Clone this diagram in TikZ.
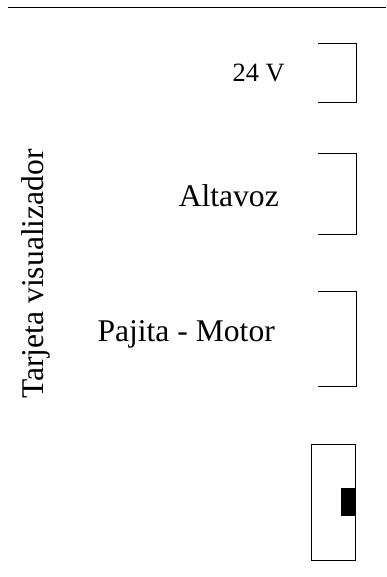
\documentclass[tikz,border=0pt]{standalone}
\usepackage{fontspec}
\setmainfont{Liberation Serif}

\begin{document}
\begin{tikzpicture}[x=1pt,y=-1pt]
    \tikzstyle{bracket}=[draw, line width=1pt]
    \tikzstyle{label}=[inner sep=0pt, font=\fontsize{31.6}{36}\selectfont]
    \tikzstyle{every node}=[label]
    \useasboundingbox (0,0) rectangle (386,577);

    \draw[line width=1pt] (8,7.3) -- (386,7.3);

    \draw[bracket] (318,44) -- (356.5,44) -- (356.5,102.3) -- (318,102.3);
    \draw[bracket] (318,154) -- (356.5,154) -- (356.5,234) -- (318,234);
    \draw[bracket] (318,291.7) -- (356.5,291.7) -- (356.5,386.7) -- (318,386.7);

    \draw[bracket] (311.7,444.3) rectangle (355.7,560);
    \fill (341,488.3) rectangle (356,516.3);

    \node[anchor=base east, font=\fontsize{26.4}{30}\selectfont] (volt) at (285,82) {24 V};
    \node[anchor=base east] (altavoz) at (279,207) {Altavoz};
    \node[anchor=base east] (motor) at (275,341) {Pajita - Motor};
    \node[rotate=90, anchor=base] (tarjeta) at (43,274) {Tarjeta visualizador};
\end{tikzpicture}
\end{document}
